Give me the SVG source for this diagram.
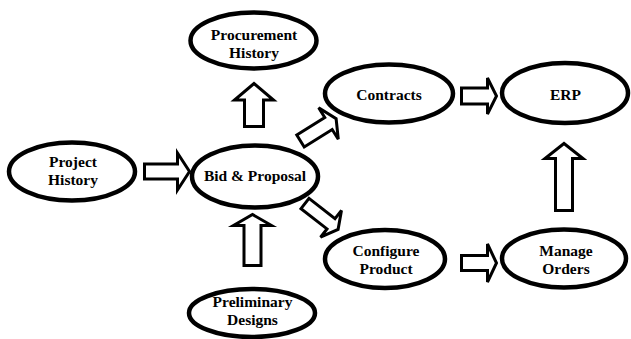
<svg xmlns="http://www.w3.org/2000/svg" width="631" height="339" viewBox="0 0 631 339">
<style>
.n{fill:#fff;stroke:#000;stroke-width:4.5}
.t{font-family:"Liberation Serif","Times New Roman",serif;font-weight:bold;font-size:15.5px;text-anchor:middle;fill:#000}
.a{fill:#fff;stroke:#000;stroke-width:3;stroke-linejoin:miter}
</style>
<rect width="631" height="339" fill="#fff"/>
<g id="connectors">
<path class="a" transform="translate(144.5,171.5)" d="M0,-7.5H33V-18.5L45,0L33,18.5V7.5H0Z"/>
<path class="a" transform="translate(461.5,96)" d="M0,-8H26V-18L35,0L26,18V8H0Z"/>
<path class="a" transform="translate(461.5,263)" d="M0,-7.5H26V-19L35,0L26,19V7.5H0Z"/>
<path class="a" transform="translate(254,126.5) rotate(-90)" d="M0,-9.5H26.5V-19.5L43,0L26.5,19.5V9.5H0Z"/>
<path class="a" transform="translate(564,210.5) rotate(-90)" d="M0,-8.5H52V-19L67,0L52,19V8.5H0Z"/>
<path class="a" transform="translate(252.5,265.5) rotate(-90)" d="M0,-8.5H40V-19L51,0L40,19V8.5H0Z"/>
<path class="a" transform="translate(300.5,141) rotate(-32)" d="M0,-7H33V-18.5L42,0L33,18.5V7H0Z"/>
<path class="a" transform="translate(305,203.5) rotate(38)" d="M0,-6.5H33V-17L42,0L33,17V6.5H0Z"/>
</g>
<g id="procurement-history">
<ellipse class="n" cx="253.5" cy="40.5" rx="63" ry="28"/>
<text class="t" x="254" y="40">Procurement</text>
<text class="t" x="254" y="58">History</text>
</g>
<g id="project-history">
<ellipse class="n" cx="72" cy="171.5" rx="63" ry="29"/>
<text class="t" x="73" y="167">Project</text>
<text class="t" x="73" y="185">History</text>
</g>
<g id="bid-proposal">
<ellipse class="n" cx="255" cy="176.5" rx="63" ry="31"/>
<text class="t" x="255" y="181">Bid &amp; Proposal</text>
</g>
<g id="contracts">
<ellipse class="n" cx="389" cy="93.5" rx="64" ry="29"/>
<text class="t" x="389" y="100">Contracts</text>
</g>
<g id="erp">
<ellipse class="n" cx="565" cy="93" rx="63" ry="30"/>
<text class="t" x="565.5" y="100">ERP</text>
</g>
<g id="configure-product">
<ellipse class="n" cx="385" cy="259" rx="60" ry="29"/>
<text class="t" x="386" y="256">Configure</text>
<text class="t" x="386" y="274">Product</text>
</g>
<g id="manage-orders">
<ellipse class="n" cx="564" cy="258.5" rx="62" ry="29"/>
<text class="t" x="566" y="256">Manage</text>
<text class="t" x="566" y="274">Orders</text>
</g>
<g id="preliminary-designs">
<ellipse class="n" cx="252" cy="313" rx="63" ry="24"/>
<text class="t" x="252.5" y="307">Preliminary</text>
<text class="t" x="252.5" y="325">Designs</text>
</g>
</svg>
